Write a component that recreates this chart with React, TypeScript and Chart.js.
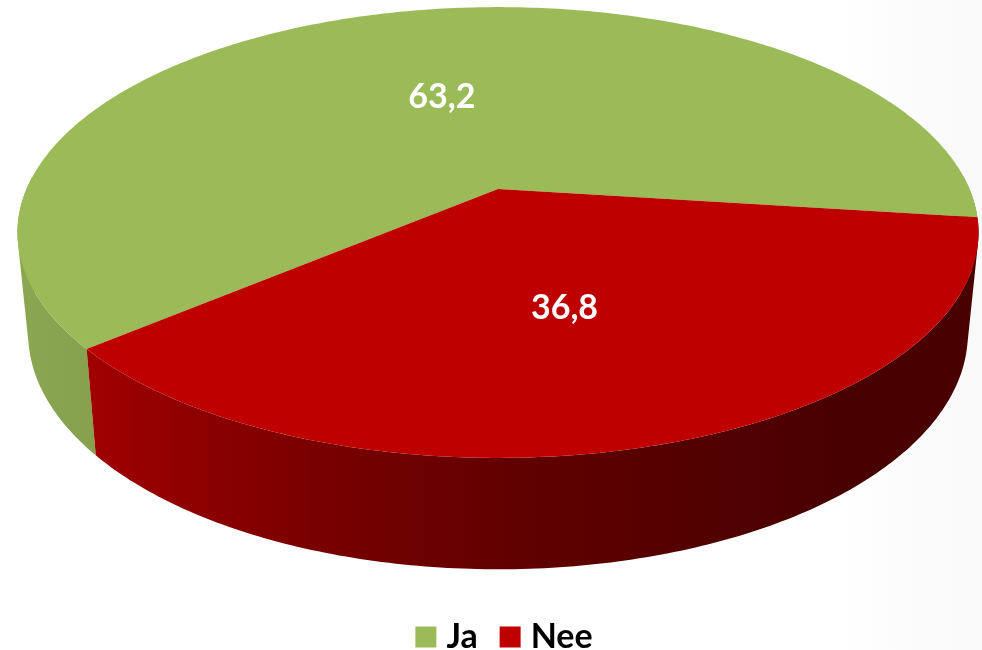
import React, { useEffect, useRef } from "react";
import { Chart, registerables } from "chart.js";

Chart.register(...registerables);

const categories = ["Ja", "Nee"];
const values = [63.2, 36.8];
const topColors = ["#9BBB59", "#BE0000"];

// Projection of the pie's unit circle onto the oblique view
const DEPTH_K = -0.193;
const TOP = { x: 498, y: 189, rx: 471.5, ry: 217 };
const BOTTOM = { x: 498, y: 288, rx: 461, ry: 227 };

type Face = typeof TOP;
const project = (f: Face, t: number, r = 1) => {
  const u = r * Math.cos(t);
  const v = r * Math.sin(t);
  const w = 1 + DEPTH_K * v;
  return { x: f.x + (f.rx * u) / w, y: f.y + (f.ry * v) / w };
};

const STEP = Math.PI / 240;

const wallFill = (ctx: CanvasRenderingContext2D, index: number) => {
  if (index === 0) {
    const g = ctx.createLinearGradient(20, 0, 100, 0);
    g.addColorStop(0, "#8BA752");
    g.addColorStop(1, "#86A04E");
    return g;
  }
  const g = ctx.createLinearGradient(88, 0, 978, 0);
  g.addColorStop(0, "#A00000");
  g.addColorStop(0.25, "#7A0000");
  g.addColorStop(0.47, "#620000");
  g.addColorStop(0.7, "#520000");
  g.addColorStop(0.85, "#480000");
  g.addColorStop(1, "#480000");
  return g;
};

// Adds one wall strip to the current path, always wound the same way
// so the union of the strips fills without seams or holes.
const addStrip = (ctx: CanvasRenderingContext2D, t: number, e: number) => {
  const pts = [project(TOP, t), project(TOP, e), project(BOTTOM, e), project(BOTTOM, t)];
  let area = 0;
  pts.forEach((p, k) => {
    const q = pts[(k + 1) % 4];
    area += p.x * q.y - q.x * p.y;
  });
  const ordered = area < 0 ? pts.slice().reverse() : pts;
  ctx.moveTo(ordered[0].x, ordered[0].y);
  ordered.slice(1).forEach((p) => ctx.lineTo(p.x, p.y));
  ctx.closePath();
};

const labelNudges = [
  [5, 3],
  [-7, 4],
];

const pie3d = {
  id: "pie3d",
  afterLayout(chart: any) {
    const legend = chart.legend;
    legend.top = 591;
    legend.left += 16.5;
    legend.right += 16.5;
  },
  beforeDatasetsDraw(chart: any) {
    const ctx: CanvasRenderingContext2D = chart.ctx;
    const arcs = chart.getDatasetMeta(0).data;
    ctx.save();
    // side walls
    arcs.forEach((arc: any, i: number) => {
      ctx.fillStyle = wallFill(ctx, i);
      ctx.beginPath();
      for (let t = arc.startAngle; t < arc.endAngle; t += STEP) {
        const e = Math.min(t + STEP, arc.endAngle);
        if (Math.sin(t) < -0.05 && Math.sin(e) < -0.05) continue;
        addStrip(ctx, t, e);
      }
      ctx.fill("nonzero");
    });
    // top faces
    arcs.forEach((arc: any, i: number) => {
      ctx.fillStyle = chart.data.datasets[0].backgroundColor[i];
      ctx.beginPath();
      ctx.moveTo(TOP.x, TOP.y);
      for (let t = arc.startAngle; t < arc.endAngle; t += STEP) {
        const p = project(TOP, t);
        ctx.lineTo(p.x, p.y);
      }
      const end = project(TOP, arc.endAngle);
      ctx.lineTo(end.x, end.y);
      ctx.closePath();
      ctx.fill();
    });
    // value labels
    ctx.fillStyle = "#FFFFFF";
    ctx.font = "bold 34px Lato";
    ctx.textAlign = "center";
    ctx.textBaseline = "middle";
    arcs.forEach((arc: any, i: number) => {
      const mid = (arc.startAngle + arc.endAngle) / 2;
      const p = project(TOP, mid, 0.5);
      ctx.fillText(
        String(chart.data.datasets[0].data[i]).replace(".", ","),
        p.x + labelNudges[i][0],
        p.y + labelNudges[i][1]
      );
    });
    ctx.restore();
    return false;
  },
};

export default function App() {
  const ref = useRef<HTMLCanvasElement>(null);
  useEffect(() => {
    const chart = new Chart(ref.current!, {
      type: "pie",
      data: {
        labels: categories,
        datasets: [{ data: values, backgroundColor: topColors, borderWidth: 0 }],
      },
      options: {
        animation: false,
        responsive: false,
        rotation: 229.8,
        plugins: {
          tooltip: { enabled: false },
          legend: {
            position: "bottom",
            labels: {
              usePointStyle: true,
              pointStyle: "rect",
              boxWidth: 7,
              boxHeight: 21,
              padding: 29,
              color: "#000000",
              font: { family: "Lato", size: 34, weight: "bold", lineHeight: 1.2 },
            },
          },
        },
      },
      plugins: [pie3d],
    } as any);
    return () => chart.destroy();
  }, []);
  return (
    <div style={{ position: "fixed", left: 0, top: 0, width: 982, height: 650, background: "linear-gradient(90deg,#ffffff 0%,#ffffff 85%,#f9f9fa 100%)" }}>
      <canvas ref={ref} width={982} height={650} style={{ display: "block" }} />
    </div>
  );
}
